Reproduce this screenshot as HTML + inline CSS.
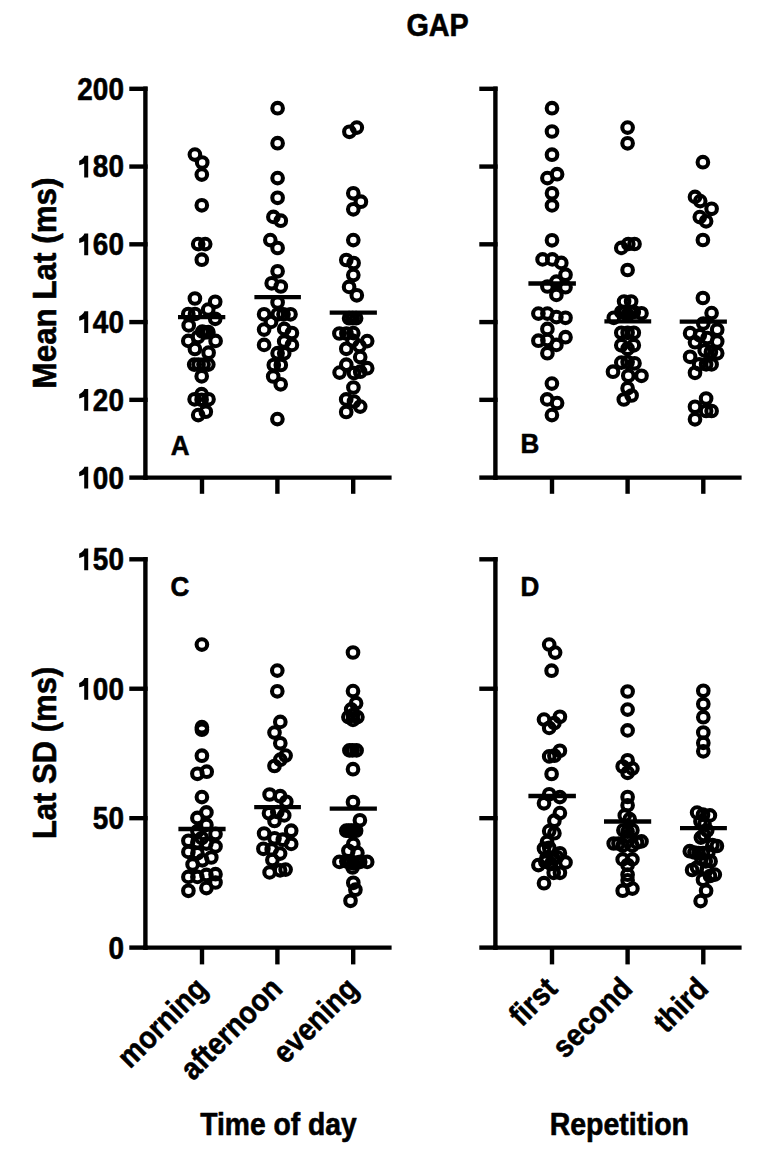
<!DOCTYPE html>
<html><head><meta charset="utf-8"><style>
html,body{margin:0;padding:0;background:#fff;width:762px;height:1152px;overflow:hidden}
svg{display:block}
text{font-family:"Liberation Sans",sans-serif;font-weight:bold;fill:#000;stroke:#000;stroke-width:0.6px;stroke-linejoin:round}
.g{fill:#000;stroke:none}
</style></head><body>
<svg width="762" height="1152" viewBox="0 0 762 1152">
<g stroke="#000" stroke-width="4.4" stroke-linecap="butt" fill="none">
<line x1="145.4" y1="86.6" x2="145.4" y2="479.8"/>
<line x1="129.3" y1="88.80" x2="147.6" y2="88.80"/>
<line x1="129.3" y1="166.56" x2="147.6" y2="166.56"/>
<line x1="129.3" y1="244.32" x2="147.6" y2="244.32"/>
<line x1="129.3" y1="322.08" x2="147.6" y2="322.08"/>
<line x1="129.3" y1="399.84" x2="147.6" y2="399.84"/>
<line x1="129.3" y1="477.60" x2="147.6" y2="477.60"/>
<line x1="143.20000000000002" y1="477.6" x2="391.6" y2="477.6"/>
<line x1="202" y1="477.6" x2="202" y2="493.8"/>
<line x1="277.4" y1="477.6" x2="277.4" y2="493.8"/>
<line x1="353.2" y1="477.6" x2="353.2" y2="493.8"/>
<line x1="495.4" y1="86.6" x2="495.4" y2="479.8"/>
<line x1="479.29999999999995" y1="88.80" x2="497.59999999999997" y2="88.80"/>
<line x1="479.29999999999995" y1="166.56" x2="497.59999999999997" y2="166.56"/>
<line x1="479.29999999999995" y1="244.32" x2="497.59999999999997" y2="244.32"/>
<line x1="479.29999999999995" y1="322.08" x2="497.59999999999997" y2="322.08"/>
<line x1="479.29999999999995" y1="399.84" x2="497.59999999999997" y2="399.84"/>
<line x1="479.29999999999995" y1="477.60" x2="497.59999999999997" y2="477.60"/>
<line x1="493.2" y1="477.6" x2="741.6" y2="477.6"/>
<line x1="552" y1="477.6" x2="552" y2="493.8"/>
<line x1="627.6" y1="477.6" x2="627.6" y2="493.8"/>
<line x1="703.3" y1="477.6" x2="703.3" y2="493.8"/>
<line x1="145.4" y1="557.0999999999999" x2="145.4" y2="949.8000000000001"/>
<line x1="129.3" y1="559.30" x2="147.6" y2="559.30"/>
<line x1="129.3" y1="688.73" x2="147.6" y2="688.73"/>
<line x1="129.3" y1="818.17" x2="147.6" y2="818.17"/>
<line x1="129.3" y1="947.60" x2="147.6" y2="947.60"/>
<line x1="143.20000000000002" y1="947.6" x2="391.6" y2="947.6"/>
<line x1="202" y1="947.6" x2="202" y2="964.4"/>
<line x1="277.4" y1="947.6" x2="277.4" y2="964.4"/>
<line x1="353.2" y1="947.6" x2="353.2" y2="964.4"/>
<line x1="495.4" y1="557.0999999999999" x2="495.4" y2="949.8000000000001"/>
<line x1="479.29999999999995" y1="559.30" x2="497.59999999999997" y2="559.30"/>
<line x1="479.29999999999995" y1="688.73" x2="497.59999999999997" y2="688.73"/>
<line x1="479.29999999999995" y1="818.17" x2="497.59999999999997" y2="818.17"/>
<line x1="479.29999999999995" y1="947.60" x2="497.59999999999997" y2="947.60"/>
<line x1="493.2" y1="947.6" x2="741.6" y2="947.6"/>
<line x1="552" y1="947.6" x2="552" y2="964.4"/>
<line x1="627.6" y1="947.6" x2="627.6" y2="964.4"/>
<line x1="703.3" y1="947.6" x2="703.3" y2="964.4"/>
</g>
<g stroke="#000" stroke-width="4.1" fill="none">
<circle cx="194.9" cy="154.6" r="5.3"/>
<circle cx="202.2" cy="162.5" r="5.3"/>
<circle cx="201.8" cy="174.6" r="5.3"/>
<circle cx="201.8" cy="205.3" r="5.3"/>
<circle cx="198.2" cy="244.1" r="5.3"/>
<circle cx="205.2" cy="244.1" r="5.3"/>
<circle cx="201.8" cy="259.7" r="5.3"/>
<circle cx="194.9" cy="298.5" r="5.3"/>
<circle cx="215.2" cy="301.8" r="5.3"/>
<circle cx="208.2" cy="309.6" r="5.3"/>
<circle cx="188.3" cy="314" r="5.3"/>
<circle cx="195" cy="314" r="5.3"/>
<circle cx="215.2" cy="318.8" r="5.3"/>
<circle cx="188.7" cy="325.4" r="5.3"/>
<circle cx="202.3" cy="331.6" r="5.3"/>
<circle cx="208.4" cy="332.2" r="5.3"/>
<circle cx="205.2" cy="332.4" r="5.3"/>
<circle cx="198" cy="337" r="5.3"/>
<circle cx="188.3" cy="340.9" r="5.3"/>
<circle cx="215.6" cy="340.9" r="5.3"/>
<circle cx="194.9" cy="349" r="5.3"/>
<circle cx="208.6" cy="352.7" r="5.3"/>
<circle cx="194.2" cy="364.6" r="5.3"/>
<circle cx="198.5" cy="364.6" r="5.3"/>
<circle cx="203.5" cy="364.6" r="5.3"/>
<circle cx="208.3" cy="364.6" r="5.3"/>
<circle cx="201.7" cy="376.3" r="5.3"/>
<circle cx="194.6" cy="399.3" r="5.3"/>
<circle cx="201.6" cy="394.2" r="5.3"/>
<circle cx="208.5" cy="399.3" r="5.3"/>
<circle cx="201.6" cy="399.8" r="5.3"/>
<circle cx="198.2" cy="415.1" r="5.3"/>
<circle cx="205.8" cy="411.7" r="5.3"/>
<circle cx="277.6" cy="108.2" r="5.3"/>
<circle cx="277.6" cy="143.2" r="5.3"/>
<circle cx="277.6" cy="178.1" r="5.3"/>
<circle cx="277.6" cy="197.8" r="5.3"/>
<circle cx="273.4" cy="216.9" r="5.3"/>
<circle cx="280.8" cy="220.7" r="5.3"/>
<circle cx="270.3" cy="240.1" r="5.3"/>
<circle cx="277.6" cy="248" r="5.3"/>
<circle cx="277.6" cy="271.3" r="5.3"/>
<circle cx="271.7" cy="283.3" r="5.3"/>
<circle cx="280.8" cy="286.5" r="5.3"/>
<circle cx="277.6" cy="302.5" r="5.3"/>
<circle cx="264.1" cy="314.3" r="5.3"/>
<circle cx="277.8" cy="314.3" r="5.3"/>
<circle cx="283.5" cy="314.3" r="5.3"/>
<circle cx="290.5" cy="314.3" r="5.3"/>
<circle cx="271" cy="321.9" r="5.3"/>
<circle cx="264.1" cy="329.6" r="5.3"/>
<circle cx="284.2" cy="328.9" r="5.3"/>
<circle cx="291.9" cy="333" r="5.3"/>
<circle cx="264.1" cy="344.9" r="5.3"/>
<circle cx="284.2" cy="341.4" r="5.3"/>
<circle cx="291.9" cy="344.9" r="5.3"/>
<circle cx="277.6" cy="353.2" r="5.3"/>
<circle cx="284.2" cy="353.2" r="5.3"/>
<circle cx="273.8" cy="365" r="5.3"/>
<circle cx="280.8" cy="365" r="5.3"/>
<circle cx="273.2" cy="376.5" r="5.3"/>
<circle cx="280.7" cy="384.3" r="5.3"/>
<circle cx="277.4" cy="419.1" r="5.3"/>
<circle cx="349.4" cy="131.8" r="5.3"/>
<circle cx="356.8" cy="127.6" r="5.3"/>
<circle cx="353.3" cy="193.3" r="5.3"/>
<circle cx="360.9" cy="201.7" r="5.3"/>
<circle cx="353.3" cy="209.3" r="5.3"/>
<circle cx="353.3" cy="240.1" r="5.3"/>
<circle cx="346.3" cy="260" r="5.3"/>
<circle cx="353.6" cy="263" r="5.3"/>
<circle cx="353.3" cy="275.1" r="5.3"/>
<circle cx="349.1" cy="286.9" r="5.3"/>
<circle cx="356.8" cy="295.3" r="5.3"/>
<circle cx="349.1" cy="318.2" r="5.3"/>
<circle cx="352.6" cy="318.2" r="5.3"/>
<circle cx="356.1" cy="318.2" r="5.3"/>
<circle cx="339.4" cy="333.5" r="5.3"/>
<circle cx="353.3" cy="333.1" r="5.3"/>
<circle cx="346.4" cy="333.5" r="5.3"/>
<circle cx="352.5" cy="340.5" r="5.3"/>
<circle cx="367.2" cy="341.1" r="5.3"/>
<circle cx="346.3" cy="348.8" r="5.3"/>
<circle cx="359.5" cy="346" r="5.3"/>
<circle cx="360.2" cy="357.1" r="5.3"/>
<circle cx="346.3" cy="364.7" r="5.3"/>
<circle cx="339.6" cy="372.6" r="5.3"/>
<circle cx="367.2" cy="368.2" r="5.3"/>
<circle cx="354" cy="373" r="5.3"/>
<circle cx="360.2" cy="371.7" r="5.3"/>
<circle cx="353.4" cy="387.5" r="5.3"/>
<circle cx="346.2" cy="399.4" r="5.3"/>
<circle cx="354" cy="401.5" r="5.3"/>
<circle cx="360.2" cy="406.6" r="5.3"/>
<circle cx="346.2" cy="412" r="5.3"/>
<circle cx="552" cy="108.2" r="5.3"/>
<circle cx="552" cy="131.5" r="5.3"/>
<circle cx="552" cy="154.7" r="5.3"/>
<circle cx="547.4" cy="178.1" r="5.3"/>
<circle cx="557.1" cy="174.2" r="5.3"/>
<circle cx="552" cy="193.3" r="5.3"/>
<circle cx="552" cy="205.4" r="5.3"/>
<circle cx="552" cy="240.3" r="5.3"/>
<circle cx="542.6" cy="259.4" r="5.3"/>
<circle cx="552.3" cy="259.4" r="5.3"/>
<circle cx="561.3" cy="262.9" r="5.3"/>
<circle cx="565.5" cy="274.7" r="5.3"/>
<circle cx="556.4" cy="281.7" r="5.3"/>
<circle cx="547.4" cy="286.5" r="5.3"/>
<circle cx="565.5" cy="287.2" r="5.3"/>
<circle cx="556.4" cy="294.9" r="5.3"/>
<circle cx="538.4" cy="313.6" r="5.3"/>
<circle cx="547.4" cy="313.6" r="5.3"/>
<circle cx="556.4" cy="317.1" r="5.3"/>
<circle cx="565.5" cy="317.8" r="5.3"/>
<circle cx="547.4" cy="328.9" r="5.3"/>
<circle cx="538.4" cy="340.7" r="5.3"/>
<circle cx="547.4" cy="340" r="5.3"/>
<circle cx="565.5" cy="337.2" r="5.3"/>
<circle cx="556.4" cy="344.9" r="5.3"/>
<circle cx="547.4" cy="353.2" r="5.3"/>
<circle cx="551.9" cy="383.6" r="5.3"/>
<circle cx="547.2" cy="399.4" r="5.3"/>
<circle cx="557.1" cy="403.1" r="5.3"/>
<circle cx="551.9" cy="415.1" r="5.3"/>
<circle cx="627.6" cy="127.6" r="5.3"/>
<circle cx="627.6" cy="143.3" r="5.3"/>
<circle cx="621.3" cy="247.9" r="5.3"/>
<circle cx="628.3" cy="244" r="5.3"/>
<circle cx="634.5" cy="244" r="5.3"/>
<circle cx="627.6" cy="270" r="5.3"/>
<circle cx="624.1" cy="301.5" r="5.3"/>
<circle cx="631.1" cy="301.5" r="5.3"/>
<circle cx="613.8" cy="317.8" r="5.3"/>
<circle cx="621.3" cy="312" r="5.3"/>
<circle cx="633.8" cy="312" r="5.3"/>
<circle cx="624.5" cy="312.5" r="5.3"/>
<circle cx="630.7" cy="312.5" r="5.3"/>
<circle cx="641.5" cy="313.3" r="5.3"/>
<circle cx="627.6" cy="314.7" r="5.3"/>
<circle cx="621.3" cy="332.8" r="5.3"/>
<circle cx="633.8" cy="332.8" r="5.3"/>
<circle cx="627.6" cy="332.8" r="5.3"/>
<circle cx="621.3" cy="345.3" r="5.3"/>
<circle cx="633.8" cy="345.3" r="5.3"/>
<circle cx="627.6" cy="348.8" r="5.3"/>
<circle cx="621.3" cy="362.6" r="5.3"/>
<circle cx="627.6" cy="362" r="5.3"/>
<circle cx="634.5" cy="363.3" r="5.3"/>
<circle cx="613" cy="371.7" r="5.3"/>
<circle cx="628.3" cy="375.8" r="5.3"/>
<circle cx="641.5" cy="375.8" r="5.3"/>
<circle cx="627.6" cy="388.3" r="5.3"/>
<circle cx="631.6" cy="395.5" r="5.3"/>
<circle cx="623.8" cy="399.5" r="5.3"/>
<circle cx="702.9" cy="162.2" r="5.3"/>
<circle cx="695" cy="196.9" r="5.3"/>
<circle cx="700.2" cy="201.1" r="5.3"/>
<circle cx="711.6" cy="208.8" r="5.3"/>
<circle cx="699.8" cy="217.1" r="5.3"/>
<circle cx="706.1" cy="221.3" r="5.3"/>
<circle cx="702.9" cy="240" r="5.3"/>
<circle cx="702.9" cy="298" r="5.3"/>
<circle cx="711.6" cy="313.1" r="5.3"/>
<circle cx="703.3" cy="323.5" r="5.3"/>
<circle cx="690.1" cy="333.2" r="5.3"/>
<circle cx="717.2" cy="329.7" r="5.3"/>
<circle cx="699.8" cy="335.3" r="5.3"/>
<circle cx="695" cy="342.2" r="5.3"/>
<circle cx="707.4" cy="338.1" r="5.3"/>
<circle cx="717.2" cy="341.5" r="5.3"/>
<circle cx="704.7" cy="350.6" r="5.3"/>
<circle cx="710.9" cy="352" r="5.3"/>
<circle cx="717.2" cy="353.3" r="5.3"/>
<circle cx="690.1" cy="356.8" r="5.3"/>
<circle cx="699.1" cy="364.4" r="5.3"/>
<circle cx="706.1" cy="364.4" r="5.3"/>
<circle cx="711.6" cy="364.4" r="5.3"/>
<circle cx="695" cy="372.8" r="5.3"/>
<circle cx="706.1" cy="398.5" r="5.3"/>
<circle cx="695" cy="406.8" r="5.3"/>
<circle cx="706.1" cy="411" r="5.3"/>
<circle cx="711.6" cy="411" r="5.3"/>
<circle cx="695" cy="419.3" r="5.3"/>
<circle cx="201.9" cy="644.6" r="5.3"/>
<circle cx="201.9" cy="727.2" r="5.3"/>
<circle cx="201.9" cy="729.7" r="5.3"/>
<circle cx="201.9" cy="755.7" r="5.3"/>
<circle cx="197.4" cy="773.8" r="5.3"/>
<circle cx="206.7" cy="771.7" r="5.3"/>
<circle cx="201.9" cy="797.1" r="5.3"/>
<circle cx="206.4" cy="812.4" r="5.3"/>
<circle cx="197.4" cy="817.9" r="5.3"/>
<circle cx="206.4" cy="824.9" r="5.3"/>
<circle cx="197.4" cy="831.1" r="5.3"/>
<circle cx="215.5" cy="833.9" r="5.3"/>
<circle cx="188.4" cy="840.8" r="5.3"/>
<circle cx="197.4" cy="842.2" r="5.3"/>
<circle cx="206.4" cy="843.6" r="5.3"/>
<circle cx="201.8" cy="838" r="5.3"/>
<circle cx="215.5" cy="846.4" r="5.3"/>
<circle cx="188.4" cy="851.9" r="5.3"/>
<circle cx="197.4" cy="853.3" r="5.3"/>
<circle cx="202.3" cy="860.3" r="5.3"/>
<circle cx="211.3" cy="857.5" r="5.3"/>
<circle cx="192.6" cy="864.4" r="5.3"/>
<circle cx="188.4" cy="876.9" r="5.3"/>
<circle cx="197.4" cy="876.9" r="5.3"/>
<circle cx="206.4" cy="874.9" r="5.3"/>
<circle cx="215.5" cy="874.2" r="5.3"/>
<circle cx="215.5" cy="882.5" r="5.3"/>
<circle cx="206.4" cy="888.1" r="5.3"/>
<circle cx="188.4" cy="890.8" r="5.3"/>
<circle cx="277.3" cy="670.6" r="5.3"/>
<circle cx="277.3" cy="691.3" r="5.3"/>
<circle cx="280.3" cy="721.9" r="5.3"/>
<circle cx="274.5" cy="732.6" r="5.3"/>
<circle cx="280.3" cy="743.3" r="5.3"/>
<circle cx="285.6" cy="755.6" r="5.3"/>
<circle cx="280.3" cy="759.7" r="5.3"/>
<circle cx="274.5" cy="766" r="5.3"/>
<circle cx="269.6" cy="794.5" r="5.3"/>
<circle cx="280.2" cy="796.2" r="5.3"/>
<circle cx="286.3" cy="801.8" r="5.3"/>
<circle cx="269" cy="813.3" r="5.3"/>
<circle cx="277.3" cy="812" r="5.3"/>
<circle cx="284.2" cy="815.4" r="5.3"/>
<circle cx="274.5" cy="821" r="5.3"/>
<circle cx="264.1" cy="833.5" r="5.3"/>
<circle cx="291.2" cy="830.7" r="5.3"/>
<circle cx="274.5" cy="838.3" r="5.3"/>
<circle cx="282.8" cy="839.7" r="5.3"/>
<circle cx="291.2" cy="843.9" r="5.3"/>
<circle cx="263.4" cy="848.8" r="5.3"/>
<circle cx="271.7" cy="849.4" r="5.3"/>
<circle cx="280.1" cy="853.6" r="5.3"/>
<circle cx="272.4" cy="859.9" r="5.3"/>
<circle cx="269.6" cy="872.4" r="5.3"/>
<circle cx="280.1" cy="870.3" r="5.3"/>
<circle cx="285.6" cy="869.6" r="5.3"/>
<circle cx="353" cy="652.5" r="5.3"/>
<circle cx="353" cy="691.1" r="5.3"/>
<circle cx="356.1" cy="703.2" r="5.3"/>
<circle cx="351.2" cy="709.4" r="5.3"/>
<circle cx="348.4" cy="717.1" r="5.3"/>
<circle cx="357.4" cy="717.1" r="5.3"/>
<circle cx="353" cy="719.9" r="5.3"/>
<circle cx="352.9" cy="715" r="5.3"/>
<circle cx="349.4" cy="750.4" r="5.3"/>
<circle cx="352.6" cy="750.4" r="5.3"/>
<circle cx="356.6" cy="750.4" r="5.3"/>
<circle cx="353" cy="769.2" r="5.3"/>
<circle cx="353" cy="802" r="5.3"/>
<circle cx="359.9" cy="820.3" r="5.3"/>
<circle cx="346.3" cy="830.7" r="5.3"/>
<circle cx="348.8" cy="830.7" r="5.3"/>
<circle cx="351.2" cy="830.7" r="5.3"/>
<circle cx="353.7" cy="830.7" r="5.3"/>
<circle cx="356.1" cy="830.7" r="5.3"/>
<circle cx="353.3" cy="843.9" r="5.3"/>
<circle cx="348.4" cy="850.8" r="5.3"/>
<circle cx="357.4" cy="852.9" r="5.3"/>
<circle cx="339.4" cy="861.9" r="5.3"/>
<circle cx="346.3" cy="861.3" r="5.3"/>
<circle cx="349.8" cy="862.5" r="5.3"/>
<circle cx="353.3" cy="863.3" r="5.3"/>
<circle cx="356.7" cy="862.5" r="5.3"/>
<circle cx="360.2" cy="861.9" r="5.3"/>
<circle cx="367.2" cy="861.9" r="5.3"/>
<circle cx="352.6" cy="867.5" r="5.3"/>
<circle cx="353.3" cy="882.8" r="5.3"/>
<circle cx="355.4" cy="889.7" r="5.3"/>
<circle cx="350.5" cy="900.8" r="5.3"/>
<circle cx="549.2" cy="644.6" r="5.3"/>
<circle cx="555.1" cy="652.6" r="5.3"/>
<circle cx="551.6" cy="670.7" r="5.3"/>
<circle cx="544" cy="719.6" r="5.3"/>
<circle cx="559.9" cy="716.8" r="5.3"/>
<circle cx="549.2" cy="727.9" r="5.3"/>
<circle cx="554.4" cy="723.1" r="5.3"/>
<circle cx="549.2" cy="756.4" r="5.3"/>
<circle cx="559.9" cy="750.8" r="5.3"/>
<circle cx="554.4" cy="755.7" r="5.3"/>
<circle cx="551.6" cy="774" r="5.3"/>
<circle cx="549.2" cy="794.3" r="5.3"/>
<circle cx="559.9" cy="797.1" r="5.3"/>
<circle cx="544" cy="803.3" r="5.3"/>
<circle cx="559.9" cy="813.1" r="5.3"/>
<circle cx="554.4" cy="820.7" r="5.3"/>
<circle cx="549.2" cy="831.1" r="5.3"/>
<circle cx="554.4" cy="833.2" r="5.3"/>
<circle cx="544" cy="848.5" r="5.3"/>
<circle cx="549.2" cy="847.8" r="5.3"/>
<circle cx="559.9" cy="853.3" r="5.3"/>
<circle cx="565.5" cy="862.4" r="5.3"/>
<circle cx="538.4" cy="865.1" r="5.3"/>
<circle cx="545.3" cy="861.7" r="5.3"/>
<circle cx="553.7" cy="858.9" r="5.3"/>
<circle cx="553.7" cy="872.8" r="5.3"/>
<circle cx="559.9" cy="872.8" r="5.3"/>
<circle cx="551" cy="864" r="5.3"/>
<circle cx="546.5" cy="858" r="5.3"/>
<circle cx="557" cy="857" r="5.3"/>
<circle cx="547" cy="842" r="5.3"/>
<circle cx="544" cy="883.2" r="5.3"/>
<circle cx="627.6" cy="691.5" r="5.3"/>
<circle cx="627.6" cy="709.6" r="5.3"/>
<circle cx="627.6" cy="730.4" r="5.3"/>
<circle cx="627.6" cy="760.3" r="5.3"/>
<circle cx="622.7" cy="766.5" r="5.3"/>
<circle cx="632.4" cy="768.6" r="5.3"/>
<circle cx="627.6" cy="772.8" r="5.3"/>
<circle cx="627.6" cy="797" r="5.3"/>
<circle cx="627.6" cy="805.3" r="5.3"/>
<circle cx="624.8" cy="815.4" r="5.3"/>
<circle cx="629.7" cy="819.2" r="5.3"/>
<circle cx="623.4" cy="830.3" r="5.3"/>
<circle cx="632.4" cy="830.3" r="5.3"/>
<circle cx="627.6" cy="831.7" r="5.3"/>
<circle cx="613.7" cy="843.5" r="5.3"/>
<circle cx="641.5" cy="841.4" r="5.3"/>
<circle cx="618.5" cy="843.5" r="5.3"/>
<circle cx="637" cy="842.5" r="5.3"/>
<circle cx="627.6" cy="836" r="5.3"/>
<circle cx="627.6" cy="841.4" r="5.3"/>
<circle cx="622.7" cy="845.6" r="5.3"/>
<circle cx="632.4" cy="845.6" r="5.3"/>
<circle cx="622.7" cy="859.4" r="5.3"/>
<circle cx="632.4" cy="859.4" r="5.3"/>
<circle cx="627.6" cy="865" r="5.3"/>
<circle cx="627.6" cy="874.7" r="5.3"/>
<circle cx="627.6" cy="880.3" r="5.3"/>
<circle cx="632.4" cy="888.6" r="5.3"/>
<circle cx="622.7" cy="890.7" r="5.3"/>
<circle cx="703.3" cy="690.8" r="5.3"/>
<circle cx="703.3" cy="704" r="5.3"/>
<circle cx="703.3" cy="717.2" r="5.3"/>
<circle cx="703.3" cy="732.5" r="5.3"/>
<circle cx="703.3" cy="742.9" r="5.3"/>
<circle cx="703.3" cy="751.3" r="5.3"/>
<circle cx="697.1" cy="812.6" r="5.3"/>
<circle cx="703" cy="814.7" r="5.3"/>
<circle cx="709.9" cy="815.4" r="5.3"/>
<circle cx="700.5" cy="821.5" r="5.3"/>
<circle cx="704.5" cy="824" r="5.3"/>
<circle cx="707.2" cy="830.5" r="5.3"/>
<circle cx="700.9" cy="837.6" r="5.3"/>
<circle cx="704" cy="835" r="5.3"/>
<circle cx="716.9" cy="846" r="5.3"/>
<circle cx="712.5" cy="845" r="5.3"/>
<circle cx="689.8" cy="851.2" r="5.3"/>
<circle cx="694.5" cy="852.5" r="5.3"/>
<circle cx="698.5" cy="853" r="5.3"/>
<circle cx="703" cy="853" r="5.3"/>
<circle cx="708.5" cy="852" r="5.3"/>
<circle cx="701.5" cy="859" r="5.3"/>
<circle cx="705.8" cy="861.3" r="5.3"/>
<circle cx="710.6" cy="861.3" r="5.3"/>
<circle cx="692.1" cy="870" r="5.3"/>
<circle cx="697" cy="867.5" r="5.3"/>
<circle cx="706.8" cy="869.5" r="5.3"/>
<circle cx="714.8" cy="874.6" r="5.3"/>
<circle cx="703" cy="879.8" r="5.3"/>
<circle cx="710" cy="876" r="5.3"/>
<circle cx="706.1" cy="890.7" r="5.3"/>
<circle cx="700.6" cy="901.1" r="5.3"/>
</g>
<g stroke="#000" stroke-width="4.3">
<line x1="178" y1="317.2" x2="225.3" y2="317.2"/>
<line x1="254.4" y1="297.2" x2="300.9" y2="297.2"/>
<line x1="329.7" y1="312.6" x2="376.9" y2="312.6"/>
<line x1="528.4" y1="283.5" x2="575.9" y2="283.5"/>
<line x1="604.4" y1="321.4" x2="651.2" y2="321.4"/>
<line x1="679.7" y1="321.7" x2="726.9" y2="321.7"/>
<line x1="178.4" y1="829.0" x2="225.6" y2="829.0"/>
<line x1="254.2" y1="807.2" x2="300.9" y2="807.2"/>
<line x1="329.7" y1="808.7" x2="376.9" y2="808.7"/>
<line x1="528.4" y1="796.0" x2="575.9" y2="796.0"/>
<line x1="604.0" y1="821.5" x2="651.2" y2="821.5"/>
<line x1="680.0" y1="828.2" x2="726.9" y2="828.2"/>
</g>
<g>
<text transform="translate(123.9 99.70) scale(0.9 1)" text-anchor="end" font-size="31">200</text>
<path class="g" transform="translate(84.2 177.46)" d="M 4,0 H 0 V -14 Q -2.6,-12.7 -5,-12.3 V -16.6 Q -2.4,-17.6 -1.1,-19.4 Q -0.3,-20.4 0.2,-21.7 H 4 Z"/>
<text transform="translate(123.9 177.46) scale(0.9 1)" text-anchor="end" font-size="31">80</text>
<path class="g" transform="translate(84.2 255.22)" d="M 4,0 H 0 V -14 Q -2.6,-12.7 -5,-12.3 V -16.6 Q -2.4,-17.6 -1.1,-19.4 Q -0.3,-20.4 0.2,-21.7 H 4 Z"/>
<text transform="translate(123.9 255.22) scale(0.9 1)" text-anchor="end" font-size="31">60</text>
<path class="g" transform="translate(84.2 332.98)" d="M 4,0 H 0 V -14 Q -2.6,-12.7 -5,-12.3 V -16.6 Q -2.4,-17.6 -1.1,-19.4 Q -0.3,-20.4 0.2,-21.7 H 4 Z"/>
<text transform="translate(123.9 332.98) scale(0.9 1)" text-anchor="end" font-size="31">40</text>
<path class="g" transform="translate(84.2 410.74)" d="M 4,0 H 0 V -14 Q -2.6,-12.7 -5,-12.3 V -16.6 Q -2.4,-17.6 -1.1,-19.4 Q -0.3,-20.4 0.2,-21.7 H 4 Z"/>
<text transform="translate(123.9 410.74) scale(0.9 1)" text-anchor="end" font-size="31">20</text>
<path class="g" transform="translate(84.2 488.50)" d="M 4,0 H 0 V -14 Q -2.6,-12.7 -5,-12.3 V -16.6 Q -2.4,-17.6 -1.1,-19.4 Q -0.3,-20.4 0.2,-21.7 H 4 Z"/>
<text transform="translate(123.9 488.50) scale(0.9 1)" text-anchor="end" font-size="31">00</text>

<path class="g" transform="translate(84.2 570.20)" d="M 4,0 H 0 V -14 Q -2.6,-12.7 -5,-12.3 V -16.6 Q -2.4,-17.6 -1.1,-19.4 Q -0.3,-20.4 0.2,-21.7 H 4 Z"/>
<text transform="translate(123.9 570.20) scale(0.9 1)" text-anchor="end" font-size="31">50</text>
<path class="g" transform="translate(84.2 699.63)" d="M 4,0 H 0 V -14 Q -2.6,-12.7 -5,-12.3 V -16.6 Q -2.4,-17.6 -1.1,-19.4 Q -0.3,-20.4 0.2,-21.7 H 4 Z"/>
<text transform="translate(123.9 699.63) scale(0.9 1)" text-anchor="end" font-size="31">00</text>
<text transform="translate(123.9 829.07) scale(0.9 1)" text-anchor="end" font-size="31">50</text>
<text transform="translate(123.9 958.50) scale(0.9 1)" text-anchor="end" font-size="31">0</text>

<text transform="translate(437.6 36.2) scale(0.9 1)" text-anchor="middle" font-size="32">GAP</text>
<text transform="translate(55.6 283.0) rotate(-90) scale(0.965 1)" text-anchor="middle" font-size="32.5">Mean Lat (ms)</text>
<text transform="translate(55.6 752.9) rotate(-90) scale(0.955 1)" text-anchor="middle" font-size="32.5">Lat SD (ms)</text>
<text transform="translate(278.5 1134.6) scale(0.912 1)" text-anchor="middle" font-size="31">Time of day</text>
<text transform="translate(619.3 1134.6) scale(0.92 1)" text-anchor="middle" font-size="31">Repetition</text>
<text transform="translate(180.2 454.9) scale(0.93 1)" text-anchor="middle" font-size="28">A</text>
<text transform="translate(529.8 452.9) scale(0.93 1)" text-anchor="middle" font-size="28">B</text>
<text transform="translate(180.0 596.3) scale(0.93 1)" text-anchor="middle" font-size="28">C</text>
<text transform="translate(529.8 596.2) scale(0.93 1)" text-anchor="middle" font-size="28">D</text>
<text transform="translate(209 990.5) rotate(-45) scale(0.9 1)" text-anchor="end" font-size="31">morning</text>
<text transform="translate(284 990.5) rotate(-45) scale(0.9 1)" text-anchor="end" font-size="31">afternoon</text>
<text transform="translate(360 990.5) rotate(-45) scale(0.9 1)" text-anchor="end" font-size="31">evening</text>
<text transform="translate(559 990.5) rotate(-45) scale(0.9 1)" text-anchor="end" font-size="31">first</text>
<text transform="translate(634 990.5) rotate(-45) scale(0.9 1)" text-anchor="end" font-size="31">second</text>
<text transform="translate(710 990.5) rotate(-45) scale(0.9 1)" text-anchor="end" font-size="31">third</text>
</g>
</svg>
</body></html>
